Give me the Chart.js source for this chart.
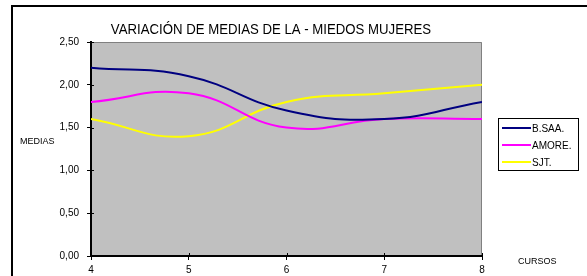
<!DOCTYPE html>
<html>
<head>
<meta charset="utf-8">
<script src="https://cdn.jsdelivr.net/npm/chart.js@4"></script>
<style>
    html, body { margin: 0; padding: 0; background: #fff; }
    #wrap { width: 587px; height: 276px; }
</style>
</head>
<body>
<div id="wrap"><canvas id="mediasChart" width="587" height="276"></canvas></div>
<script>
// Datos
const cursos = [4, 5, 6, 7, 8];
const seriesNames = ['B.SAA.', 'AMORE.', 'SJT.'];
const bsaa = [2.20, 2.10, 1.70, 1.60, 1.80];
const amore = [1.80, 1.90, 1.50, 1.60, 1.60];
const sjt = [1.60, 1.40, 1.80, 1.90, 2.00];
const seriesColors = ['#000080', '#FF00FF', '#FFFF00'];
const yTicks = [0, 0.5, 1, 1.5, 2, 2.5];

const titleText = 'VARIACIÓN DE MEDIAS DE LA - MIEDOS MUJERES';
const yTitle = 'MEDIAS';
const xTitle = 'CURSOS';
const FONT = '"Liberation Sans", Arial, sans-serif';

function toPoints(values) {
    return cursos.map((c, i) => ({ x: c, y: values[i] }));
}

// Fondo gris del area de trazado, marco, titulo y leyenda
const excelLook = {
    id: 'excelLook',
    beforeDraw(chart) {
        const ctx = chart.ctx;
        const a = chart.chartArea;
        ctx.save();
        ctx.fillStyle = '#C0C0C0';
        ctx.fillRect(a.left, a.top, a.right - a.left, a.bottom - a.top);
        ctx.strokeStyle = '#808080';
        ctx.lineWidth = 1;
        ctx.beginPath();
        ctx.moveTo(a.left, a.top + 0.5);
        ctx.lineTo(a.right - 0.5, a.top + 0.5);
        ctx.lineTo(a.right - 0.5, a.bottom);
        ctx.stroke();
        ctx.restore();
    },
    afterDraw(chart) {
        const ctx = chart.ctx;
        const a = chart.chartArea;
        ctx.save();

        // marcas de division hacia dentro (tipo cruz)
        ctx.strokeStyle = '#000';
        ctx.lineWidth = 1;
        ctx.beginPath();
        yTicks.forEach(v => {
            const y = Math.round(chart.scales.y.getPixelForValue(v)) + 0.5;
            ctx.moveTo(a.left, y);
            ctx.lineTo(a.left + 3, y);
        });
        cursos.forEach(v => {
            const x = Math.round(chart.scales.x.getPixelForValue(v)) + 0.5;
            ctx.moveTo(x, a.bottom);
            ctx.lineTo(x, a.bottom - 3);
        });
        ctx.stroke();

        // marco exterior
        ctx.lineWidth = 2;
        ctx.beginPath();
        ctx.moveTo(587, 6);
        ctx.lineTo(12, 6);
        ctx.lineTo(12, 276);
        ctx.stroke();

        // titulo (algo estrecho, como en el original)
        ctx.fillStyle = '#000';
        ctx.font = '15px ' + FONT;
        ctx.textAlign = 'center';
        ctx.textBaseline = 'middle';
        ctx.save();
        ctx.translate(271, 30);
        ctx.scale(0.88, 1);
        ctx.fillText(titleText, 0, 0);
        ctx.restore();

        // titulos de ejes
        ctx.font = '9px ' + FONT;
        ctx.textAlign = 'left';
        ctx.fillText(yTitle, 20, 142);
        ctx.fillText(xTitle, 518, 262);

        // leyenda
        const lx = 498, ly = 118, lw = 80, lh = 52;
        ctx.fillStyle = '#fff';
        ctx.fillRect(lx, ly, lw, lh);
        ctx.strokeStyle = '#000';
        ctx.lineWidth = 1;
        ctx.strokeRect(lx + 0.5, ly + 0.5, lw, lh);
        ctx.font = '10px ' + FONT;
        chart.data.datasets.forEach((ds, i) => {
            const y = ly + 10 + i * 17;
            ctx.strokeStyle = ds.borderColor;
            ctx.lineWidth = 2;
            ctx.beginPath();
            ctx.moveTo(502, y);
            ctx.lineTo(531, y);
            ctx.stroke();
            ctx.fillStyle = '#000';
            ctx.fillText(ds.label, 532, y + 1);
        });
        ctx.restore();
    }
};

const ctx = document.getElementById('mediasChart').getContext('2d');
new Chart(ctx, {
    type: 'line',
    data: {
        datasets: [bsaa, amore, sjt].map((vals, i) => ({
            label: seriesNames[i],
            data: toPoints(vals),
            borderColor: seriesColors[i],
            backgroundColor: seriesColors[i],
            borderWidth: 2,
            pointRadius: 0,
            tension: 0.45,
            fill: false
        }))
    },
    options: {
        responsive: false,
        animation: false,
        layout: {
            padding: { top: 42, right: 105, left: 0, bottom: 0 }
        },
        plugins: {
            legend: { display: false },
            title: { display: false },
            tooltip: { enabled: false }
        },
        scales: {
            x: {
                type: 'linear',
                min: 4,
                max: 8,
                afterBuildTicks(scale) {
                    scale.ticks = cursos.map(v => ({ value: v }));
                },
                afterFit(scale) { scale.height = 20; },
                grid: {
                    drawOnChartArea: false,
                    drawTicks: true,
                    tickLength: 4,
                    color: '#000'
                },
                border: { color: '#000', width: 2 },
                ticks: {
                    color: '#000',
                    font: { family: FONT, size: 10 },
                    padding: 4,
                    maxRotation: 0
                }
            },
            y: {
                min: 0,
                max: 2.5,
                afterBuildTicks(scale) {
                    scale.ticks = yTicks.map(v => ({ value: v }));
                },
                afterFit(scale) { scale.width = 91; },
                grid: {
                    drawOnChartArea: false,
                    drawTicks: true,
                    tickLength: 4,
                    color: '#000'
                },
                border: { color: '#000', width: 2 },
                ticks: {
                    color: '#000',
                    font: { family: FONT, size: 10 },
                    padding: 8,
                    callback: v => v.toFixed(2).replace('.', ',')
                }
            }
        }
    },
    plugins: [excelLook]
});
</script>
</body>
</html>
